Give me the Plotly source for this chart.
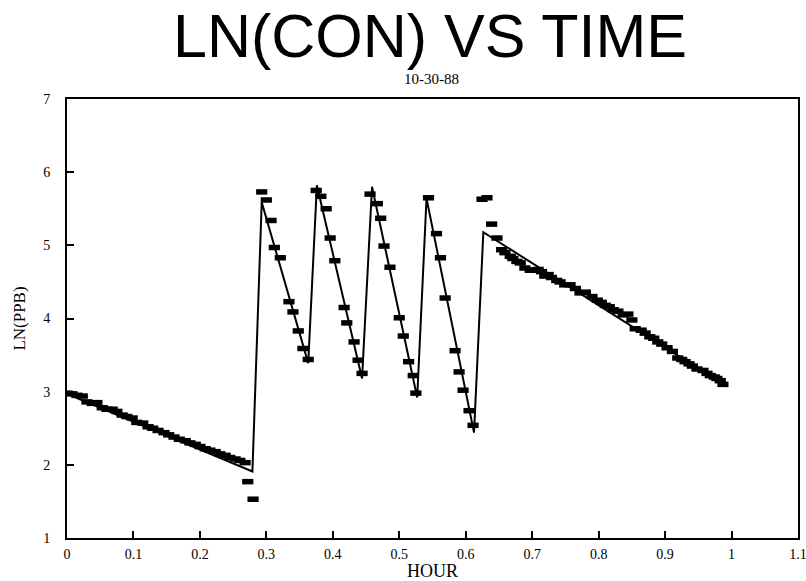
import plotly.graph_objects as go

# Measured ln(concentration) samples, grouped by run segment
base_t = [0.000, 0.0075, 0.015, 0.023, 0.030, 0.038, 0.045, 0.053, 0.060, 0.068,
          0.075, 0.083, 0.090, 0.098, 0.105, 0.114, 0.122, 0.129, 0.137, 0.146,
          0.153, 0.161, 0.169, 0.178, 0.185, 0.193, 0.200, 0.208, 0.215, 0.223,
          0.230, 0.238, 0.245, 0.253, 0.260, 0.268, 0.272, 0.280]
base_y = [2.98, 2.97, 2.95, 2.94, 2.86, 2.84, 2.85, 2.78, 2.76, 2.76,
          2.73, 2.68, 2.66, 2.64, 2.58, 2.57, 2.52, 2.50, 2.47, 2.44,
          2.41, 2.38, 2.35, 2.33, 2.30, 2.28, 2.25, 2.22, 2.20, 2.18,
          2.15, 2.13, 2.10, 2.08, 2.06, 2.03, 1.77, 1.53]

pulse1_t = [0.293, 0.300, 0.307, 0.312, 0.321, 0.334, 0.340, 0.348, 0.355, 0.363]
pulse1_y = [5.73, 5.62, 5.34, 4.97, 4.83, 4.23, 4.09, 3.83, 3.59, 3.44]

pulse2_t = [0.375, 0.382, 0.390, 0.396, 0.403, 0.417, 0.421, 0.432, 0.438, 0.444]
pulse2_y = [5.75, 5.67, 5.50, 5.10, 4.79, 4.15, 3.94, 3.68, 3.43, 3.25]

pulse3_t = [0.456, 0.467, 0.472, 0.477, 0.486, 0.500, 0.506, 0.514, 0.521, 0.525]
pulse3_y = [5.70, 5.57, 5.37, 4.99, 4.70, 4.01, 3.76, 3.41, 3.22, 2.98]

pulse4_t = [0.544, 0.556, 0.562, 0.569, 0.584, 0.590, 0.596, 0.605, 0.611]
pulse4_y = [5.65, 5.16, 4.83, 4.28, 3.56, 3.27, 3.02, 2.74, 2.54]

final_t = [0.6245, 0.632, 0.639, 0.647, 0.654, 0.659, 0.667, 0.671, 0.677, 0.682,
           0.689, 0.697, 0.704, 0.709, 0.714, 0.719, 0.724, 0.729, 0.737, 0.742,
           0.749, 0.757, 0.765, 0.772, 0.780, 0.790, 0.798, 0.804, 0.810, 0.816,
           0.822, 0.829, 0.837, 0.844, 0.850, 0.855, 0.864, 0.870, 0.877, 0.883,
           0.889, 0.895, 0.903, 0.911, 0.919, 0.925, 0.930, 0.936, 0.941, 0.948,
           0.957, 0.963, 0.968, 0.974, 0.978, 0.983, 0.987]
final_y = [5.63, 5.65, 5.29, 5.10, 4.94, 4.90, 4.85, 4.82, 4.78, 4.76,
           4.69, 4.66, 4.66, 4.67, 4.64, 4.58, 4.60, 4.56, 4.52, 4.50,
           4.46, 4.46, 4.41, 4.35, 4.36, 4.30, 4.25, 4.22, 4.18, 4.16,
           4.12, 4.10, 4.05, 4.06, 3.98, 3.86, 3.84, 3.80, 3.75, 3.73,
           3.68, 3.65, 3.60, 3.55, 3.46, 3.44, 3.41, 3.38, 3.35, 3.31,
           3.29, 3.25, 3.22, 3.20, 3.18, 3.15, 3.10]

# Piecewise fitted decay/injection line
fit_t = [0.000, 0.279, 0.293, 0.363, 0.376, 0.444, 0.459, 0.527, 0.541, 0.6125, 0.6265, 0.993]
fit_y = [2.97, 1.91, 5.59, 3.39, 5.82, 3.18, 5.80, 2.92, 5.64, 2.44, 5.18, 3.07]

# Axis ticks
x_ticks = [0, 0.1, 0.2, 0.3, 0.4, 0.5, 0.6, 0.7, 0.8, 0.9, 1.0, 1.1]
x_tick_labels = ["0", "0.1", "0.2", "0.3", "0.4", "0.5", "0.6", "0.7", "0.8", "0.9", "1", "1.1"]
y_ticks = [1, 2, 3, 4, 5, 6, 7]

sample_t = base_t + pulse1_t + pulse2_t + pulse3_t + pulse4_t + final_t
sample_y = base_y + pulse1_y + pulse2_y + pulse3_y + pulse4_y + final_y

fig = go.Figure()
fig.add_trace(go.Scatter(
    x=fit_t, y=fit_y, mode="lines",
    line=dict(color="black", width=2),
    hoverinfo="skip", showlegend=False,
))
fig.add_trace(go.Scatter(
    x=sample_t, y=sample_y, mode="markers",
    marker=dict(symbol="line-ew", size=8, line=dict(color="black", width=5.5)),
    showlegend=False,
))

serif = "Liberation Serif, Times New Roman, serif"
sans = "Liberation Sans, Arial, sans-serif"

# Plot-area geometry used to place the headings in pixel terms
ML, MR, MT, MB = 67, 8, 99, 43
W, H = 806, 581
plot_w = W - ML - MR
plot_h = H - MT - MB


def px_x(px):
    return (px - ML) / plot_w


def px_y(py):
    return (H - MB - py) / plot_h


fig.update_layout(
    width=W, height=H,
    margin=dict(l=ML, r=MR, t=MT, b=MB),
    paper_bgcolor="white", plot_bgcolor="white",
    font=dict(family=serif, color="black"),
    annotations=[
        dict(text="LN(CON) VS TIME", x=px_x(430), y=px_y(36),
             xref="paper", yref="paper", showarrow=False,
             font=dict(family=sans, size=61, color="black"),
             xanchor="center", yanchor="middle"),
        dict(text="10-30-88", x=px_x(431), y=px_y(79),
             xref="paper", yref="paper", showarrow=False,
             font=dict(family=serif, size=15, color="black"),
             xanchor="center", yanchor="middle"),
    ],
)

fig.update_xaxes(
    range=[0, 1.1], tickvals=x_ticks, ticktext=x_tick_labels,
    ticks="inside", ticklen=7, tickwidth=1.5, tickcolor="black",
    showline=True, linecolor="black", linewidth=2, mirror=True,
    showgrid=False, zeroline=False, automargin=False,
    ticklabeloverflow="allow",
    tickfont=dict(family=serif, size=14, color="black"),
    ticklabelstandoff=2,
    title=dict(text="HOUR", font=dict(family=serif, size=18, color="black"), standoff=1),
)
fig.update_yaxes(
    range=[1, 7], tickvals=y_ticks,
    ticks="inside", ticklen=7, tickwidth=1.5, tickcolor="black",
    showline=True, linecolor="black", linewidth=2, mirror=True,
    showgrid=False, zeroline=False, automargin=False,
    ticklabeloverflow="allow",
    tickfont=dict(family=serif, size=14, color="black"),
    ticklabelstandoff=12,
    title=dict(text="LN(PPB)", font=dict(family=serif, size=17, color="black"), standoff=13),
)

fig.write_html("out.html")
